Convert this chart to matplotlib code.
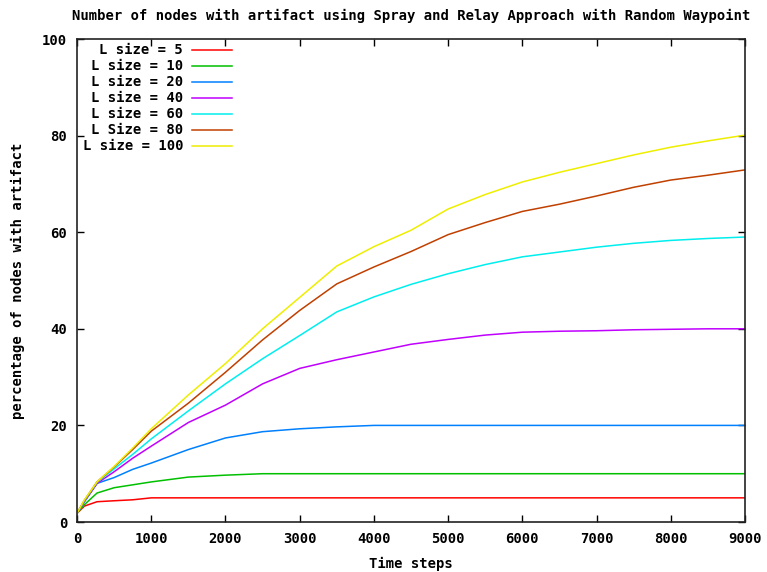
import matplotlib
matplotlib.use("Agg")
import matplotlib.pyplot as plt
import numpy as np

# sample points
steps = [0, 100, 270, 500, 750, 1000, 1500, 2000, 2500, 3000, 3500, 4000, 4500,
         5000, 5500, 6000, 6500, 7000, 7500, 8000, 8500, 9000]

size5 = [1.8, 3.3, 4.2, 4.4, 4.6, 5, 5, 5, 5, 5, 5, 5, 5,
         5, 5, 5, 5, 5, 5, 5, 5, 5]
size10 = [1.8, 3.6, 6.0, 7.1, 7.7, 8.3, 9.3, 9.7, 10, 10, 10, 10, 10,
          10, 10, 10, 10, 10, 10, 10, 10, 10]
size20 = [1.8, 4.2, 8.0, 9.2, 10.9, 12.2, 15.0, 17.4, 18.7, 19.3, 19.7, 20, 20,
          20, 20, 20, 20, 20, 20, 20, 20, 20]
size40 = [1.8, 4.3, 8.0, 10.4, 13.2, 15.7, 20.6, 24.2, 28.6, 31.8, 33.6, 35.2, 36.8,
          37.8, 38.7, 39.3, 39.5, 39.6, 39.8, 39.9, 40, 40]
size60 = [1.8, 4.4, 8.2, 11.0, 14.0, 17.2, 23.0, 28.6, 33.8, 38.6, 43.5, 46.6, 49.2,
          51.4, 53.3, 54.9, 55.9, 56.9, 57.7, 58.3, 58.7, 59.0]
size80 = [1.8, 4.5, 8.3, 11.4, 15.0, 18.8, 24.6, 31.0, 37.7, 43.8, 49.3, 52.8, 56.0,
          59.5, 62.0, 64.3, 65.8, 67.5, 69.3, 70.8, 71.8, 72.9]
size100 = [1.8, 4.6, 8.3, 11.5, 15.3, 19.3, 26.3, 32.8, 40.0, 46.5, 53.0, 57.0, 60.4,
           64.8, 67.8, 70.4, 72.4, 74.2, 76.0, 77.6, 78.9, 80.1]

labels = ["L size = 5", "L size = 10", "L size = 20", "L size = 40",
          "L size = 60", "L Size = 80", "L size = 100"]
series = [size5, size10, size20, size40, size60, size80, size100]
colors = ["#ff0000", "#00c000", "#0080ff", "#c000ff", "#00eeee", "#c04000", "#eeee00"]

font = {"family": "DejaVu Sans Mono", "weight": "bold", "size": 10}

fig = plt.figure(figsize=(7.67, 5.72), dpi=100)
ax = fig.add_axes([0.1004, 0.0874, 0.8709, 0.8444])

for vals, c in zip(series, colors):
    ax.plot(steps, vals, color=c, lw=1.1)

ax.set_xlim(0, 9000)
ax.set_ylim(0, 100)
ax.set_xticks(np.arange(0, 9001, 1000))
ax.set_yticks(np.arange(0, 101, 20))
ax.tick_params(direction="in", top=True, right=True, length=5, width=1, pad=7)
for lab in ax.get_xticklabels() + ax.get_yticklabels():
    lab.set_fontfamily(font["family"])
    lab.set_fontweight("bold")
    lab.set_fontsize(10)
for s in ax.spines.values():
    s.set_linewidth(1.2)
    s.set_color("#222222")

ax.set_title("Number of nodes with artifact using Spray and Relay Approach with Random Waypoint",
             fontdict=font, pad=14)
ax.set_xlabel("Time steps", fontdict=font, labelpad=8)
ax.set_ylabel("percentage of nodes with artifact", fontdict=font, labelpad=12)

# gnuplot-style key: right aligned text, line sample to the right
for i, (lab, c) in enumerate(zip(labels, colors)):
    y = 0.977 - i * 0.0331
    ax.text(0.159, y, lab, transform=ax.transAxes, ha="right", va="center", **font)
    ax.plot([0.172, 0.232], [y, y], transform=ax.transAxes, color=c, lw=1.1)

fig.savefig("out.png", dpi=100)
